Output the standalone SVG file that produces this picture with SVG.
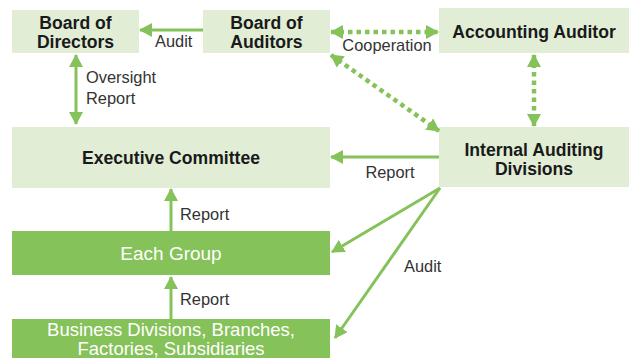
<svg xmlns="http://www.w3.org/2000/svg" width="629" height="358" viewBox="0 0 629 358">
<style>
.lt{fill:#e1eed5}
.dk{fill:#86c25a}
.t{font-family:"Liberation Sans",Arial,sans-serif;font-weight:bold;font-size:17.6px;fill:#1a1a1a;text-anchor:middle}
.w{font-family:"Liberation Sans",Arial,sans-serif;font-size:19px;fill:#ffffff;text-anchor:middle}
.l{font-family:"Liberation Sans",Arial,sans-serif;font-size:16.4px;fill:#333333}
.c{stroke:#86c25a;stroke-width:3;fill:none}
.d{stroke:#86c25a;stroke-width:4.5;fill:none;stroke-dasharray:4.5 4}
</style>
<defs>
<marker id="ah" markerUnits="userSpaceOnUse" markerWidth="14" markerHeight="14" refX="12" refY="7" orient="auto-start-reverse" viewBox="0 0 14 14">
<path d="M0,0 L13,7 L0,14 z" fill="#86c25a"/>
</marker>
</defs>
<g id="board-of-directors"><rect class="lt" x="12" y="10" width="127" height="43"/><text class="t" x="75.5" y="29">Board of</text><text class="t" x="75.5" y="48">Directors</text></g>
<g id="board-of-auditors"><rect class="lt" x="203" y="10" width="127" height="43"/><text class="t" x="266.5" y="29">Board of</text><text class="t" x="266.5" y="48">Auditors</text></g>
<g id="accounting-auditor"><rect class="lt" x="439" y="8" width="190" height="45"/><text class="t" x="534" y="38">Accounting Auditor</text></g>
<g id="internal-auditing"><rect class="lt" x="439" y="127" width="190" height="60"/><text class="t" x="534" y="156">Internal Auditing</text><text class="t" x="534" y="175">Divisions</text></g>
<g id="executive-committee"><rect class="lt" x="12" y="127" width="318" height="61"/><text class="t" x="171" y="164">Executive Committee</text></g>
<g id="each-group"><rect class="dk" x="12" y="231" width="318" height="44"/><text class="w" x="171" y="260">Each Group</text></g>
<g id="business-divisions"><rect class="dk" x="12" y="319" width="318" height="39"/><text class="w" x="171" y="336" style="font-size:18.5px">Business Divisions, Branches,</text><text class="w" x="171" y="355" style="font-size:18.5px">Factories, Subsidiaries</text></g>
<g id="connectors">
<line class="c" x1="203" y1="30" x2="140" y2="30" marker-end="url(#ah)"/>
<line class="c" x1="76" y1="55" x2="76" y2="124" marker-start="url(#ah)" marker-end="url(#ah)"/>
<line class="d" x1="331" y1="32" x2="438" y2="32" marker-start="url(#ah)" marker-end="url(#ah)"/>
<line class="d" x1="331" y1="55" x2="439" y2="131" marker-start="url(#ah)" marker-end="url(#ah)"/>
<line class="d" x1="534" y1="55" x2="534" y2="126" marker-start="url(#ah)" marker-end="url(#ah)"/>
<line class="c" x1="439" y1="157" x2="331" y2="157" marker-end="url(#ah)"/>
<line class="c" x1="171" y1="231" x2="171" y2="189" marker-end="url(#ah)"/>
<line class="c" x1="171" y1="319" x2="171" y2="277" marker-end="url(#ah)"/>
<line class="c" x1="440" y1="188" x2="332" y2="252" marker-end="url(#ah)"/>
<line class="c" x1="440" y1="188" x2="335" y2="338" marker-end="url(#ah)"/>
<text class="l" x="155" y="47">Audit</text>
<text class="l" x="86" y="83">Oversight</text>
<text class="l" x="86" y="104">Report</text>
<text class="l" x="387" y="51" text-anchor="middle">Cooperation</text>
<text class="l" x="390" y="178" text-anchor="middle">Report</text>
<text class="l" x="180" y="220">Report</text>
<text class="l" x="180" y="305">Report</text>
<text class="l" x="404" y="272">Audit</text>
</g>
</svg>
